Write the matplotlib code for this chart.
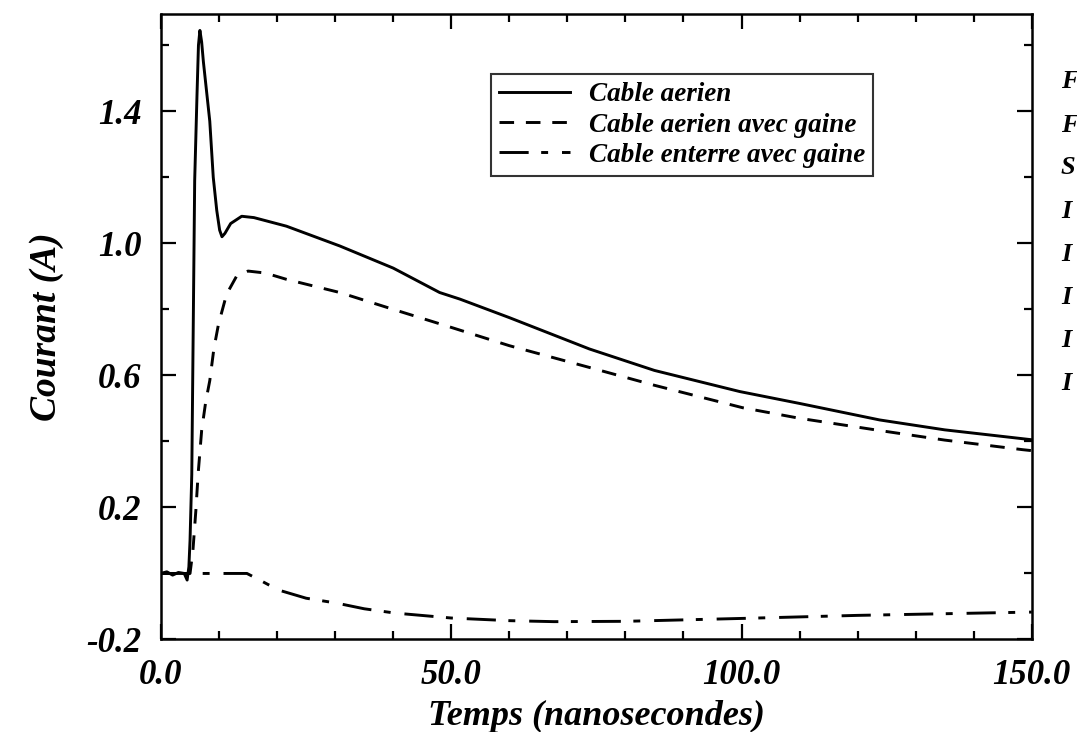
#!/usr/bin python3

# import required libraries
import matplotlib
matplotlib.use("Agg")
import matplotlib.pyplot as plt
from matplotlib.ticker import MultipleLocator, FixedLocator

# Cable aerien (solid)
t_aerien = [0, 1, 2, 3, 4, 4.5, 4.8, 5.0, 5.3, 5.8, 6.2, 6.45, 6.7, 7.0, 7.3,
            8.4, 9.0, 9.6, 10.1, 10.5, 11.0, 12.0, 13.9, 16, 21.6, 30.8, 40, 48,
            51.5, 60, 73.8, 85, 99.7, 110, 123.8, 135, 150]
i_aerien = [0, 0.005, -0.005, 0.003, 0, -0.02, 0.02, 0.1, 0.3, 1.19, 1.45, 1.60,
            1.645, 1.61, 1.55, 1.37, 1.20, 1.10, 1.04, 1.02, 1.03, 1.06, 1.082,
            1.078, 1.052, 0.992, 0.925, 0.851, 0.831, 0.775, 0.68, 0.615, 0.551,
            0.515, 0.465, 0.435, 0.405]

# Cable aerien avec gaine (dashed)
t_gaine = [0, 4.5, 5.0, 5.5, 6.0, 6.4, 7.0, 7.7, 8.4, 9.1, 9.9, 11.3, 13, 15, 18,
           21.6, 30.8, 40, 49.7, 60, 73.8, 85, 100.2, 110, 123.8, 135, 148.4, 150]
i_gaine = [0, 0, 0, 0.07, 0.19, 0.303, 0.433, 0.52, 0.584, 0.68, 0.755, 0.846,
           0.90, 0.916, 0.91, 0.891, 0.851, 0.80, 0.747, 0.69, 0.624, 0.57, 0.502,
           0.47, 0.433, 0.404, 0.375, 0.372]

# Cable enterre avec gaine (dash-dot)
t_enterre = [0, 5, 10, 14.8, 17, 20.2, 25, 30.3, 35, 40.3, 50, 60, 67.7, 80,
             100.6, 120, 135, 150]
i_enterre = [0, 0, 0, 0, -0.02, -0.05, -0.075, -0.09, -0.107, -0.12, -0.135,
             -0.143, -0.146, -0.145, -0.136, -0.127, -0.122, -0.117]

x_ticks = [0, 50, 100, 150]
x_labels = ["0.0", "50.0", "100.0", "150.0"]
y_ticks = [-0.2, 0.2, 0.6, 1.0, 1.4]
y_labels = ["-0.2", "0.2", "0.6", "1.0", "1.4"]
side_letters = ["F", "F", "S", "I", "I", "I", "I", "I"]


def main():
    plt.rcParams["font.family"] = ["Liberation Serif", "DejaVu Serif"]
    plt.rcParams["font.weight"] = "bold"
    plt.rcParams["font.style"] = "italic"
    plt.rcParams["axes.labelweight"] = "bold"
    plt.rcParams["lines.scale_dashes"] = False

    fig = plt.figure(figsize=(10.77, 7.32), dpi=100)
    ax = fig.add_axes([0.1495, 0.1264, 0.8085, 0.8546])

    lw = 2.1
    ax.plot(t_aerien, i_aerien, color="black", lw=lw, label="Cable aerien")
    ax.plot(t_gaine, i_gaine, color="black", lw=lw, linestyle=(0, (10.5, 8.5)),
            label="Cable aerien avec gaine")
    ax.plot(t_enterre, i_enterre, color="black", lw=lw,
            linestyle=(0, (21, 9, 5, 10)), label="Cable enterre avec gaine")

    ax.set_xlim(0, 150)
    ax.set_ylim(-0.2, 1.695)
    ax.xaxis.set_major_locator(FixedLocator(x_ticks))
    ax.set_xticklabels(x_labels)
    ax.xaxis.set_minor_locator(MultipleLocator(10))
    ax.yaxis.set_major_locator(FixedLocator(y_ticks))
    ax.set_yticklabels(y_labels)
    ax.yaxis.set_minor_locator(MultipleLocator(0.2))

    ax.tick_params(which="both", direction="in", top=True, right=True,
                   width=1.6, labelsize=25)
    ax.tick_params(which="major", length=11, pad=14)
    ax.tick_params(which="minor", length=6)
    for s in ax.spines.values():
        s.set_linewidth(1.8)

    ax.set_xlabel("Temps (nanosecondes)", fontsize=26, labelpad=6)
    ax.set_ylabel("Courant (A)", fontsize=27, labelpad=16)

    leg = ax.legend(loc="upper left", bbox_to_anchor=(0.379, 0.904),
                    borderaxespad=0, fontsize=19.5, frameon=True, fancybox=False,
                    edgecolor="black", handlelength=2.6, labelspacing=0.2,
                    borderpad=0.3, handletextpad=0.7)
    leg.get_frame().set_linewidth(1.5)

    # letters of the next column, cut by the page edge
    for k, letter in enumerate(side_letters):
        fig.text(1061 / 1077, 1 - (82 + 43 * k) / 732, letter, fontsize=19,
                 ha="left", va="center")

    plt.savefig("out.png", dpi=100)


if __name__ == '__main__':
    main()
